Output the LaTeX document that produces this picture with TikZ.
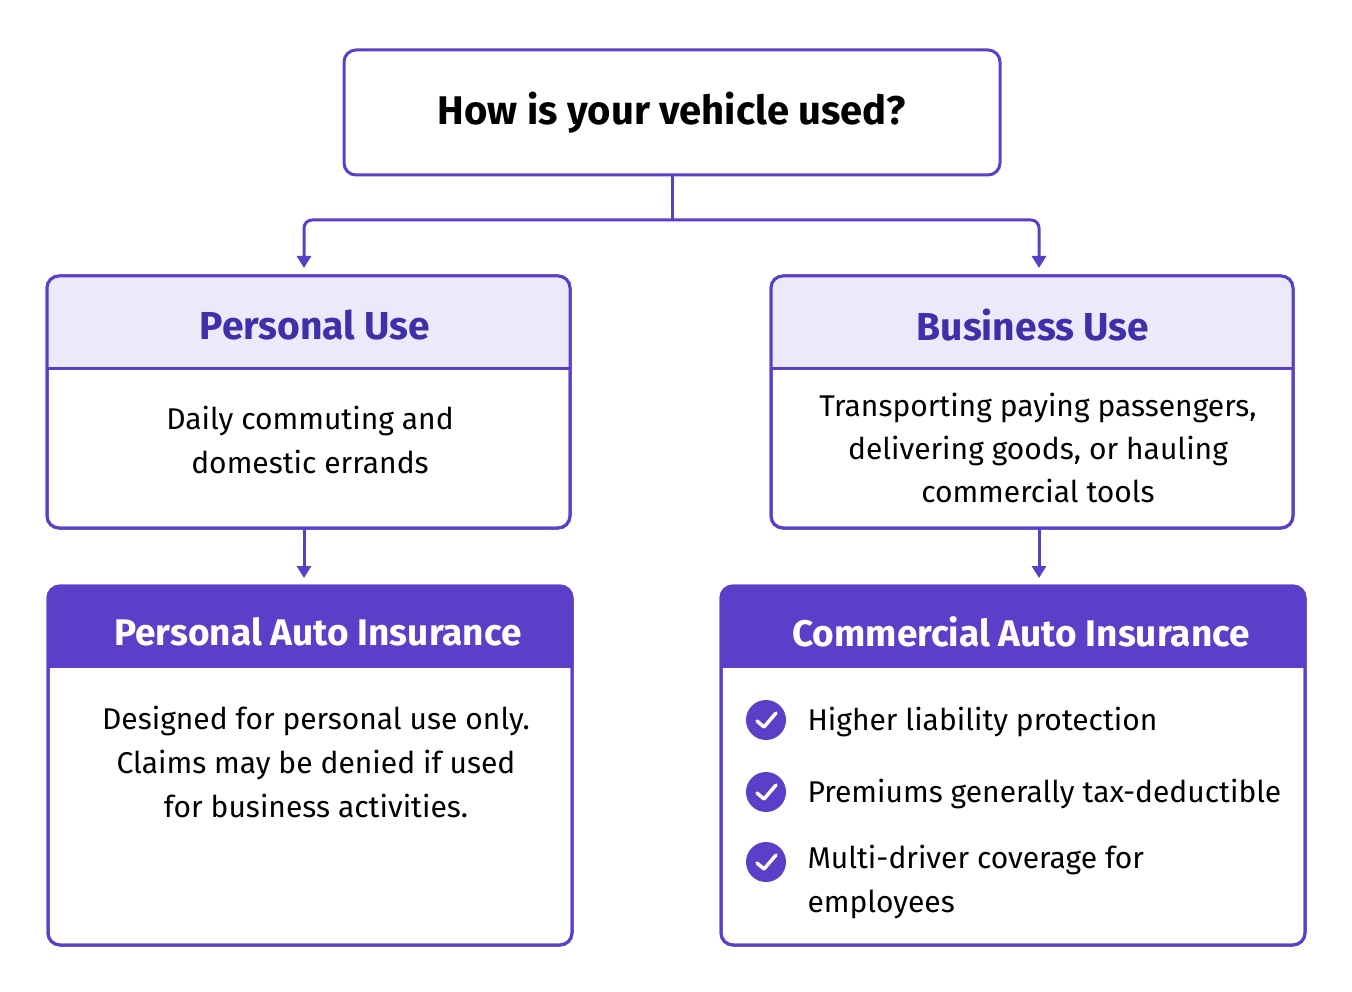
\documentclass[tikz,border=0pt]{standalone}
\usepackage{fontspec}
\setmainfont{Fira Sans}
\usetikzlibrary{arrows.meta,calc}
\definecolor{pur}{HTML}{5B3FC8}
\definecolor{lpur}{HTML}{ECEAFA}
\definecolor{hpur}{HTML}{3F2FA8}
\begin{document}
\begin{tikzpicture}[x=1pt,y=-1pt,
  box/.style={draw=pur,line width=3pt,rounded corners=12pt,fill=white},
  arr/.style={draw=pur,line width=3pt,-{Triangle[length=12pt,width=14pt]}},
  body/.style={font=\fontsize{30}{44}\selectfont,align=center,text=black},
  chk/.style={circle,fill=pur,minimum size=40pt,inner sep=0pt}]
\useasboundingbox (0,0) rectangle (1352,992);
\fill[white] (0,0) rectangle (1352,992);
% top
\node[box,minimum width=656pt,minimum height=125pt,font=\fontsize{40}{50}\selectfont\bfseries] (q) at (672,112.5) {How is your vehicle used?};
% personal use
\node[box,minimum width=523pt,minimum height=252pt] (pu) at (308.5,402) {};
\begin{scope}
\clip[rounded corners=12pt] (47,276) rectangle (570,528);
\fill[lpur] (47,276) rectangle (570,368);
\end{scope}
\draw[pur,line width=3pt] (47,368) -- (570,368);
\node[box,fill=none,minimum width=523pt,minimum height=252pt] at (308.5,402) {};
\node[font=\fontsize{39}{48}\selectfont\bfseries,text=hpur] (put) at (315,325) {Personal Use};
\node[body] (pub) at (310,440) {Daily commuting and\\domestic errands};
% business use
\node[box,minimum width=522pt,minimum height=252pt] (bu) at (1032,402) {};
\begin{scope}
\clip[rounded corners=12pt] (771,276) rectangle (1293,528);
\fill[lpur] (771,276) rectangle (1293,368);
\end{scope}
\draw[pur,line width=3pt] (771,368) -- (1293,368);
\node[box,fill=none,minimum width=522pt,minimum height=252pt] at (1032,402) {};
\node[font=\fontsize{39}{48}\selectfont\bfseries,text=hpur] (but) at (1033,325) {Business Use};
\node[body,font=\fontsize{30}{43}\selectfont] (bub) at (1038,448) {Transporting paying passengers,\\delivering goods, or hauling\\commercial tools};
% personal auto
\node[box,minimum width=524pt,minimum height=359pt] (pa) at (310,765.5) {};
\begin{scope}
\clip[rounded corners=12pt] (48,586) rectangle (572,945);
\fill[pur] (48,586) rectangle (572,668);
\end{scope}
\node[box,fill=none,minimum width=524pt,minimum height=359pt] at (310,765.5) {};
\node[font=\fontsize{37}{46}\selectfont\bfseries,text=white] (pat) at (318,632) {Personal Auto Insurance};
\node[body] (pab) at (316,762) {Designed for personal use only.\\Claims may be denied if used\\for business activities.};
% commercial
\node[box,minimum width=584pt,minimum height=359pt] (ca) at (1013,765.5) {};
\begin{scope}
\clip[rounded corners=12pt] (721,586) rectangle (1305,945);
\fill[pur] (721,586) rectangle (1305,668);
\end{scope}
\node[box,fill=none,minimum width=584pt,minimum height=359pt] at (1013,765.5) {};
\node[font=\fontsize{37}{46}\selectfont\bfseries,text=white] (cat) at (1021,632) {Commercial Auto Insurance};
\foreach \n/\y in {c1/720,c2/792,c3/862}{
  \node[chk] (\n) at (766,\y) {};
  \draw[white,line width=3.5pt,line cap=round,line join=round] ($(\n)+(-9,1)$) -- ($(\n)+(-2,7)$) -- ($(\n)+(10,-7)$);
}
\node[body,anchor=west] (t1) at (804,722) {Higher liability protection};
\node[body,anchor=west] (t2) at (804,794) {Premiums generally tax-deductible};
\node[body,anchor=west,align=left] (t3) at (804,882) {Multi-driver coverage for\\employees};
% connectors
\coordinate (j) at (672,220);
\draw[pur,line width=3pt] (q.south) -- (j);
\draw[arr,rounded corners=8pt] (j) -- (304,220) -- (304,268);
\draw[arr,rounded corners=8pt] (j) -- (1039,220) -- (1039,268);
\draw[arr] (304,528) -- (304,578);
\draw[arr] (1039,528) -- (1039,578);
\end{tikzpicture}
\end{document}
